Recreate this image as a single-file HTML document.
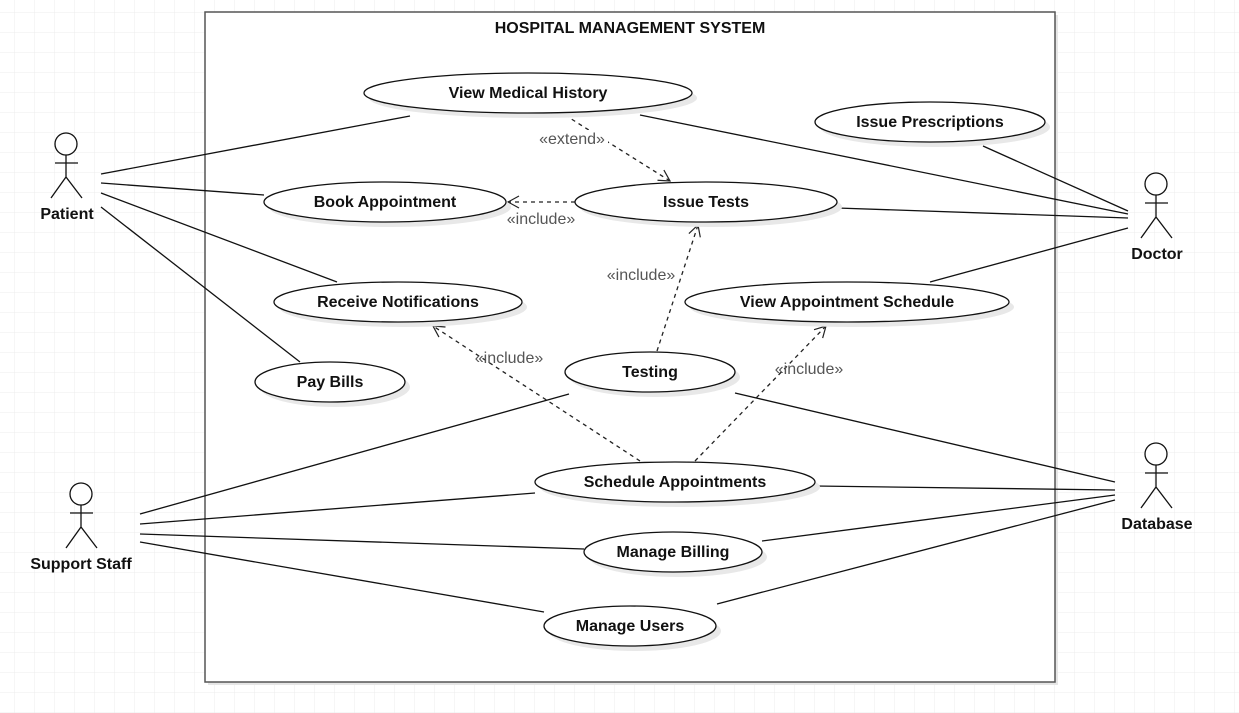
<!DOCTYPE html>
<html><head><meta charset="utf-8"><style>
html,body{margin:0;padding:0;background:#fff;}
svg{display:block;}
text{font-family:"Liberation Sans",Arial,sans-serif;}
.b{font-weight:bold;font-size:16px;fill:#111;}
.s{font-size:16px;fill:#555;}
</style></head><body>
<svg width="1239" height="713" viewBox="0 0 1239 713">
<defs>
<pattern id="g" x="14" y="12" width="20" height="20" patternUnits="userSpaceOnUse">
<path d="M0 0H20M0 0V20" stroke="#ececec" stroke-width="1" fill="none"/>
</pattern>
<marker id="a" markerWidth="14" markerHeight="14" refX="12" refY="7" orient="auto" markerUnits="userSpaceOnUse">
<path d="M1 1L12 7L1 13" fill="none" stroke="#222" stroke-width="1.2"/>
</marker>
</defs>
<rect width="1239" height="713" fill="url(#g)"/>
<rect x="208" y="15" width="850" height="670" fill="#e6e6e6"/>
<rect x="205" y="12" width="850" height="670" fill="#fff" stroke="#555" stroke-width="1.5"/>
<text x="630" y="33" text-anchor="middle" class="b">HOSPITAL MANAGEMENT SYSTEM</text>

<g stroke="#111" stroke-width="1.3" fill="none">
<line x1="101" y1="174" x2="410" y2="116"/>
<line x1="101" y1="183" x2="264" y2="195"/>
<line x1="101" y1="193" x2="337" y2="282"/>
<line x1="101" y1="207" x2="300" y2="362"/>
<line x1="640" y1="115" x2="1128" y2="214"/>
<line x1="983" y1="146" x2="1128" y2="211"/>
<line x1="837" y1="208" x2="1128" y2="218"/>
<line x1="930" y1="282" x2="1128" y2="228"/>
<line x1="140" y1="514" x2="569" y2="394"/>
<line x1="140" y1="524" x2="535" y2="493"/>
<line x1="140" y1="534" x2="584" y2="549"/>
<line x1="140" y1="542" x2="544" y2="612"/>
<line x1="735" y1="393" x2="1115" y2="482"/>
<line x1="815" y1="486" x2="1115" y2="490"/>
<line x1="762" y1="541" x2="1115" y2="495"/>
<line x1="717" y1="604" x2="1115" y2="500"/>
</g>
<g stroke="#222" stroke-width="1.3" fill="none" stroke-dasharray="4,4" marker-end="url(#a)">
<line x1="565" y1="115" x2="670" y2="181"/>
<line x1="575" y1="202" x2="508" y2="202"/>
<line x1="657" y1="351" x2="698" y2="225"/>
<line x1="640" y1="461" x2="433" y2="326"/>
<line x1="695" y1="461" x2="826" y2="326"/>
</g>

<g fill="#e8e8e8">
<ellipse cx="533" cy="98" rx="164" ry="20"/>
<ellipse cx="935" cy="127" rx="115" ry="20"/>
<ellipse cx="390" cy="207" rx="121" ry="20"/>
<ellipse cx="711" cy="207" rx="131" ry="20"/>
<ellipse cx="403" cy="307" rx="124" ry="20"/>
<ellipse cx="852" cy="307" rx="162" ry="20"/>
<ellipse cx="335" cy="387" rx="75" ry="20"/>
<ellipse cx="655" cy="377" rx="85" ry="20"/>
<ellipse cx="680" cy="487" rx="140" ry="20"/>
<ellipse cx="678" cy="557" rx="89" ry="20"/>
<ellipse cx="635" cy="631" rx="86" ry="20"/>
</g>
<g fill="#fff" stroke="#111" stroke-width="1.3">
<ellipse cx="528" cy="93" rx="164" ry="20"/>
<ellipse cx="930" cy="122" rx="115" ry="20"/>
<ellipse cx="385" cy="202" rx="121" ry="20"/>
<ellipse cx="706" cy="202" rx="131" ry="20"/>
<ellipse cx="398" cy="302" rx="124" ry="20"/>
<ellipse cx="847" cy="302" rx="162" ry="20"/>
<ellipse cx="330" cy="382" rx="75" ry="20"/>
<ellipse cx="650" cy="372" rx="85" ry="20"/>
<ellipse cx="675" cy="482" rx="140" ry="20"/>
<ellipse cx="673" cy="552" rx="89" ry="20"/>
<ellipse cx="630" cy="626" rx="86" ry="20"/>
</g>
<g text-anchor="middle">
<text x="528" y="98" class="b">View Medical History</text>
<text x="930" y="127" class="b">Issue Prescriptions</text>
<text x="385" y="207" class="b">Book Appointment</text>
<text x="706" y="207" class="b">Issue Tests</text>
<text x="398" y="307" class="b">Receive Notifications</text>
<text x="847" y="307" class="b">View Appointment Schedule</text>
<text x="330" y="387" class="b">Pay Bills</text>
<text x="650" y="377" class="b">Testing</text>
<text x="675" y="487" class="b">Schedule Appointments</text>
<text x="673" y="552" dy="5" class="b">Manage Billing</text>
<text x="630" y="631" class="b">Manage Users</text>
</g>
<g text-anchor="middle">
<rect x="538" y="130" width="70" height="15" fill="#fff"/>
<text x="572" y="144" class="s">«extend»</text>
<text x="541" y="224" class="s">«include»</text>
<rect x="604" y="266" width="74" height="15" fill="#fff"/>
<text x="641" y="280" class="s">«include»</text>
<text x="509" y="363" class="s">«include»</text>
<text x="809" y="374" class="s">«include»</text>
</g>

<g stroke="#111" stroke-width="1.3" fill="#fff">
<circle cx="66" cy="144" r="11"/>
<path d="M66 155V177M55 163H78M51 198L66 177L82 198" fill="none"/>
<circle cx="1156" cy="184" r="11"/>
<path d="M1156 195V217M1145 203H1168M1141 238L1156 217L1172 238" fill="none"/>
<circle cx="81" cy="494" r="11"/>
<path d="M81 505V527M70 513H93M66 548L81 527L97 548" fill="none"/>
<circle cx="1156" cy="454" r="11"/>
<path d="M1156 465V487M1145 473H1168M1141 508L1156 487L1172 508" fill="none"/>
</g>
<g text-anchor="middle">
<text x="67" y="219" class="b">Patient</text>
<text x="1157" y="259" class="b">Doctor</text>
<text x="81" y="569" class="b">Support Staff</text>
<text x="1157" y="529" class="b">Database</text>
</g>
</svg>
</body></html>
